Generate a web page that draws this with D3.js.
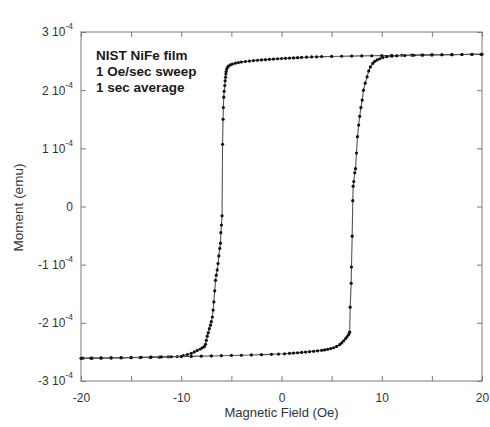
<!DOCTYPE html>
<html>
<head>
<meta charset="utf-8">
<script src="https://cdn.jsdelivr.net/npm/d3@7"></script>
<style>
body { margin: 0; background: #fff; }
svg { display: block; font-family: "Liberation Sans", Arial, sans-serif; }
</style>
</head>
<body>
<script>
'use strict';

// moments are in units of 1e-4 emu
// descending sweep (+20 -> -20 Oe), upper branch
const downField = [20, 19, 18, 17, 16, 15, 14, 13, 12, 11, 10, 9, 8, 7, 6, 5, 4, 3.5, 3, 2.5, 2, 1.6, 1.2, 0.8, 0.4, 0,
	-0.4, -0.8, -1.2, -1.6, -2, -2.4, -2.8, -3.2, -3.6, -4, -4.3, -4.6, -4.9, -5.1, -5.3, -5.4, -5.47, -5.52, -5.55,
	-5.58, -5.62, -5.66, -5.72, -5.76, -5.8, -5.83, -5.88, -5.93, -5.99, -6.05, -6.09, -6.16, -6.25, -6.33, -6.41,
	-6.5, -6.58, -6.66, -6.75, -6.82, -6.9, -7.0, -7.08, -7.2, -7.3, -7.41, -7.5, -7.58, -7.7, -7.9, -8.1, -8.4,
	-8.7, -9.0, -9.4, -9.8, -10.4, -11.3, -12.2, -13.1, -14.1, -15, -16, -17, -18, -18.9, -19.8];
const downMoment = [2.617, 2.615, 2.613, 2.611, 2.609, 2.607, 2.605, 2.602, 2.600, 2.597, 2.594, 2.592, 2.589, 2.586,
	2.583, 2.580, 2.577, 2.574, 2.571, 2.567, 2.563, 2.559, 2.555, 2.552, 2.548, 2.544, 2.540, 2.535, 2.530, 2.525,
	2.520, 2.514, 2.508, 2.501, 2.493, 2.484, 2.475, 2.464, 2.449, 2.434, 2.412, 2.390, 2.36, 2.32, 2.28, 2.22, 2.16,
	2.08, 1.98, 1.88, 1.70, 1.50, 1.07, -0.16, -0.32, -0.45, -0.63, -0.72, -0.85, -0.98, -1.09, -1.18, -1.27, -1.45,
	-1.64, -1.78, -1.90, -1.98, -2.04, -2.10, -2.17, -2.23, -2.30, -2.37, -2.41, -2.43, -2.45, -2.475, -2.50, -2.525,
	-2.545, -2.565, -2.58, -2.585, -2.59, -2.594, -2.597, -2.60, -2.602, -2.604, -2.606, -2.607, -2.608];

// ascending sweep (-20 -> +20 Oe), lower branch
const upField = [-20, -19, -18, -17, -16, -15, -14, -13, -12, -11, -10, -9, -8, -7, -6, -5, -4, -3, -2, -1, -0.3, 0.3,
	0.8, 1.2, 1.6, 2, 2.4, 2.8, 3.2, 3.6, 4, 4.3, 4.6, 4.9, 5.2, 5.5, 5.8, 6.0, 6.2, 6.4, 6.55, 6.7, 6.8, 6.85, 6.95,
	6.98, 7.05, 7.11, 7.15, 7.21, 7.31, 7.38, 7.48, 7.58, 7.7, 7.8, 7.92, 8.05, 8.18, 8.35, 8.54, 8.7, 8.87, 9.1, 9.3,
	9.54, 9.8, 10.1, 10.5, 11, 11.5, 12.3, 13.2, 14.1, 15, 16, 17, 18, 19, 19.9];
const upMoment = [-2.61, -2.607, -2.604, -2.601, -2.598, -2.595, -2.592, -2.589, -2.586, -2.583, -2.58, -2.577,
	-2.573, -2.569, -2.565, -2.561, -2.557, -2.552, -2.547, -2.542, -2.537, -2.532, -2.525, -2.52, -2.514, -2.508,
	-2.502, -2.496, -2.489, -2.481, -2.473, -2.465, -2.455, -2.443, -2.428, -2.405, -2.375, -2.345, -2.31, -2.27,
	-2.235, -2.20, -2.16, -1.73, -1.32, -1.04, -0.51, 0.10, 0.35, 0.43, 0.58, 0.65, 0.92, 1.20, 1.40, 1.55, 1.70,
	1.83, 2.00, 2.12, 2.23, 2.33, 2.40, 2.46, 2.495, 2.52, 2.54, 2.56, 2.575, 2.585, 2.59, 2.595, 2.6, 2.603, 2.606,
	2.609, 2.611, 2.613, 2.615, 2.617];

const xTicks = [-20, -15, -10, -5, 0, 5, 10, 15, 20];
const xLabels = [-20, -10, 0, 10, 20];
const yTicks = [-3, -2, -1, 0, 1, 2, 3];
const notes = ['NIST NiFe film', '1 Oe/sec sweep', '1 sec average'];

const W = 490, H = 427;
const plot = { left: 81, right: 482, top: 32, bottom: 381 };
const frameColor = '#7a7a7a';
const textColor = '#333';

let svg = d3.select('body').append('svg').attr('width', W).attr('height', H);

let xScale = d3.scaleLinear().domain([-20, 20]).range([plot.left, plot.right]);
let yScale = d3.scaleLinear().domain([-3, 3]).range([plot.bottom, plot.top]);

// frame
svg.append('rect')
	.attr('x', plot.left).attr('y', plot.top)
	.attr('width', plot.right - plot.left).attr('height', plot.bottom - plot.top)
	.attr('fill', 'none').attr('stroke', frameColor).attr('stroke-width', 1);

function styleAxis(g) {
	g.select('.domain').remove();
	g.selectAll('.tick line').attr('stroke', frameColor);
	g.attr('font-family', null).attr('font-size', 12);
	g.selectAll('.tick text').attr('fill', textColor);
}

svg.append('g')
	.attr('transform', 'translate(0,' + plot.bottom + ')')
	.call(d3.axisBottom(xScale).tickValues(xTicks).tickSizeInner(-5).tickSizeOuter(0).tickPadding(12)
		.tickFormat((d) => xLabels.includes(d) ? d : ''))
	.call(styleAxis);

svg.append('g')
	.attr('transform', 'translate(0,' + plot.top + ')')
	.call(d3.axisTop(xScale).tickValues(xTicks).tickSizeInner(-5).tickSizeOuter(0).tickFormat(''))
	.call(styleAxis);

svg.append('g')
	.attr('transform', 'translate(' + plot.right + ',0)')
	.call(d3.axisRight(yScale).tickValues(yTicks).tickSizeInner(-5).tickSizeOuter(0).tickFormat(''))
	.call(styleAxis);

let yAxisG = svg.append('g')
	.attr('transform', 'translate(' + plot.left + ',0)')
	.call(d3.axisLeft(yScale).tickValues(yTicks).tickSizeInner(-5).tickSizeOuter(0).tickPadding(8).tickFormat(''))
	.call(styleAxis);

// labels like "3 10^-4"
yAxisG.selectAll('.tick text').each(function(d) {
	let t = d3.select(this);
	if (d === 0) {
		t.text('0');
		return;
	}
	t.append('tspan').text(d + ' 10');
	t.append('tspan').attr('dy', -7).attr('font-size', 8.5).text('-4');
});

// data
const downData = downField.map((f, i) => ({ x: f, y: downMoment[i] }));
const upData = upField.map((f, i) => ({ x: f, y: upMoment[i] }));

let line = d3.line().x((d) => xScale(d.x)).y((d) => yScale(d.y));

let chart = svg.append('g');
[downData, upData].forEach((series) => {
	chart.append('path')
		.datum(series)
		.attr('d', line)
		.attr('fill', 'none')
		.attr('stroke', '#555')
		.attr('stroke-width', 1.1);
	chart.selectAll(null)
		.data(series)
		.enter()
		.append('circle')
		.attr('cx', (d) => xScale(d.x))
		.attr('cy', (d) => yScale(d.y))
		.attr('r', 1.6)
		.attr('fill', '#111');
});

// annotation
notes.forEach((s, i) => {
	svg.append('text')
		.attr('x', 96).attr('y', 59.5 + i * 16)
		.attr('font-size', 13.5).attr('font-weight', 'bold')
		.attr('fill', '#1a1a1a')
		.text(s);
});

// axis titles
svg.append('text')
	.attr('x', (plot.left + plot.right) / 2).attr('y', 417)
	.attr('text-anchor', 'middle').attr('font-size', 13).attr('fill', textColor)
	.text('Magnetic Field (Oe)');

svg.append('text')
	.attr('transform', 'translate(23,207.5) rotate(-90)')
	.attr('text-anchor', 'middle').attr('font-size', 13.5).attr('fill', textColor)
	.text('Moment (emu)');
</script>
</body>
</html>
